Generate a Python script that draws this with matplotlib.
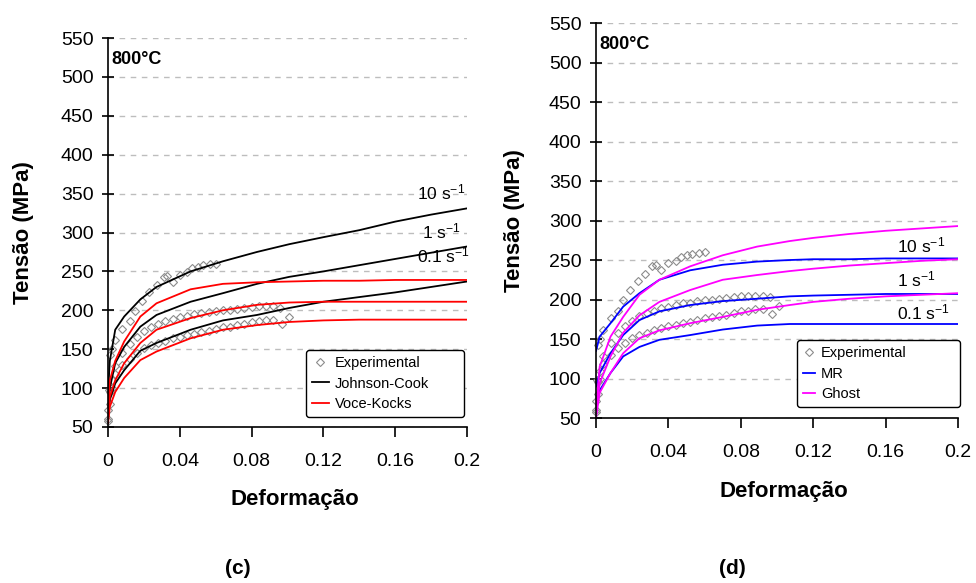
import matplotlib
matplotlib.use("Agg")
import matplotlib.pyplot as plt

plt.rcParams['font.family'] = ['Liberation Sans', 'DejaVu Sans']
plt.rcParams['mathtext.fontset'] = 'custom'
plt.rcParams['mathtext.rm'] = 'Liberation Sans'
plt.rcParams['mathtext.it'] = 'Liberation Sans:italic'
plt.rcParams['mathtext.bf'] = 'Liberation Sans:bold'

# experimental points (same data in both panels)
exp_10_x = [0, 0.0005, 0.001, 0.002, 0.004, 0.008, 0.012, 0.015, 0.019, 0.023, 0.027,
            0.031, 0.033, 0.036, 0.040, 0.044, 0.047, 0.050, 0.053, 0.057, 0.060]
exp_10_y = [58, 98, 142, 150, 162, 176, 186, 199, 212, 224, 232,
            243, 244, 237, 246, 249, 254, 256, 258, 259, 260]

exp_1_x = [0, 0.001, 0.002, 0.004, 0.008, 0.012, 0.016, 0.020, 0.024, 0.028, 0.032,
           0.036, 0.040, 0.044, 0.048, 0.052, 0.056, 0.060, 0.064, 0.068, 0.072,
           0.076, 0.080, 0.084, 0.088, 0.092, 0.096, 0.101]
exp_1_y = [72, 95, 110, 128, 145, 157, 166, 173, 179, 183, 186,
           189, 191, 193, 195, 196, 198, 199, 200, 201, 202,
           203, 204, 205, 205, 205, 203, 192]

exp_01_x = [0, 0.001, 0.002, 0.004, 0.008, 0.012, 0.016, 0.020, 0.024, 0.028, 0.032,
            0.036, 0.040, 0.044, 0.048, 0.052, 0.056, 0.060, 0.064, 0.068, 0.072,
            0.076, 0.080, 0.084, 0.088, 0.092, 0.097]
exp_01_y = [60, 80, 100, 118, 130, 138, 145, 151, 155, 158, 161,
            164, 166, 168, 170, 172, 174, 176, 178, 179, 181,
            183, 185, 186, 188, 188, 182]

# (c) Johnson-Cook and Voce-Kocks
eps_c = [0, 0.001, 0.004, 0.009, 0.018, 0.027, 0.046, 0.064, 0.083, 0.101,
         0.12, 0.14, 0.16, 0.18, 0.2]
jc_10 = [95, 135, 175, 192, 214, 230, 250, 263, 275, 285, 294, 303, 314, 323, 331]
jc_1 = [75, 100, 132, 153, 179, 194, 211, 222, 234, 243, 250, 258, 266, 274, 282]
jc_01 = [60, 85, 106, 123, 148, 158, 175, 187, 194, 203, 211, 217, 223, 230, 237]
vk_10 = [70, 110, 135, 160, 192, 209, 227, 234, 236, 237, 238, 238, 239, 239, 239]
vk_1 = [60, 89, 110, 132, 158, 175, 190, 200, 207, 210, 211, 211, 211, 211, 211]
vk_01 = [55, 76, 95, 113, 136, 147, 164, 175, 181, 185, 187, 188, 188, 188, 188]

# (d) MR and Ghost
eps_d = [0, 0.002, 0.008, 0.015, 0.024, 0.035, 0.052, 0.07, 0.089, 0.107,
         0.12, 0.14, 0.16, 0.18, 0.2]
mr_10 = [135, 153, 170, 191, 208, 225, 237, 244, 248, 250, 251, 251, 252, 252, 252]
gh_10 = [60, 115, 153, 178, 206, 225, 242, 256, 267, 274, 278, 283, 287, 290, 293]
mr_1 = [90, 107, 132, 155, 174, 185, 193, 198, 201, 204, 205, 206, 207, 207, 207]
gh_1 = [55, 94, 128, 158, 180, 197, 212, 225, 231, 236, 239, 243, 246, 249, 251]
mr_01 = [70, 85, 107, 128, 140, 149, 155, 162, 167, 169, 169, 169, 169, 169, 169]
gh_01 = [50, 82, 107, 132, 151, 161, 170, 178, 187, 193, 197, 201, 204, 206, 208]

x_ticks = [0, 0.04, 0.08, 0.12, 0.16, 0.2]
x_labels = ['0', '0.04', '0.08', '0.12', '0.16', '0.2']
y_ticks = list(range(50, 551, 50))
rate_labels = ['10 s$^{-1}$', '1 s$^{-1}$', '0.1 s$^{-1}$']


def setup_axes(ax):
    ax.set_xlim(0, 0.2)
    ax.set_ylim(50, 550)
    ax.set_xticks(x_ticks)
    ax.set_xticklabels(x_labels)
    ax.set_yticks(y_ticks)
    ax.spines['top'].set_visible(False)
    ax.spines['right'].set_visible(False)
    ax.spines['left'].set_linewidth(1.2)
    ax.spines['bottom'].set_linewidth(1.2)
    ax.tick_params(axis='y', direction='inout', length=9, width=1.2, labelsize=14, pad=6)
    ax.tick_params(axis='x', direction='out', length=7, width=1.2, labelsize=14, pad=12)
    ax.yaxis.grid(True, linestyle=(0, (4, 4)), color='#bdbdbd', linewidth=1)
    ax.set_axisbelow(True)
    ax.set_xlabel('Deformação', fontsize=16, fontweight='bold')
    ax.set_ylabel('Tensão (MPa)', fontsize=16, fontweight='bold')
    ax.text(0.01, 0.945, '800°C', transform=ax.transAxes, fontsize=13,
            fontweight='bold', va='center', ha='left')


def plot_exp(ax):
    kw = dict(linestyle='none', marker='D', markersize=4.5, markerfacecolor='none',
              markeredgecolor='#8c8c8c', markeredgewidth=0.8, clip_on=False)
    ax.plot(exp_10_x, exp_10_y, label='Experimental', **kw)
    ax.plot(exp_1_x, exp_1_y, **kw)
    ax.plot(exp_01_x, exp_01_y, **kw)


def add_legend(ax, box, hlen):
    leg = ax.legend(loc='lower left', bbox_to_anchor=box, mode='expand', fontsize=10.5,
                    handlelength=hlen, handletextpad=0.4, labelspacing=0.45,
                    borderpad=0.4, borderaxespad=0, fancybox=True, framealpha=1,
                    edgecolor='black')
    leg.get_frame().set_linewidth(1)
    return leg


fig = plt.figure(figsize=(9.76, 5.83), dpi=100)

# panel (c)
ax1 = fig.add_axes([0.1107, 0.2676, 0.3678, 0.6672])
setup_axes(ax1)
plot_exp(ax1)
ax1.plot(eps_c, jc_10, color='black', lw=1.3, label='Johnson-Cook')
ax1.plot(eps_c, jc_1, color='black', lw=1.3)
ax1.plot(eps_c, jc_01, color='black', lw=1.3)
ax1.plot(eps_c, vk_10, color='red', lw=1.3, label='Voce-Kocks')
ax1.plot(eps_c, vk_1, color='red', lw=1.3)
ax1.plot(eps_c, vk_01, color='red', lw=1.3)
ax1.text(0.1720, 351, rate_labels[0], fontsize=12.5, va='center')
ax1.text(0.1750, 301, rate_labels[1], fontsize=12.5, va='center')
ax1.text(0.1720, 270, rate_labels[2], fontsize=12.5, va='center')
add_legend(ax1, (0.5515, 0.0257, 0.44, 0.177), 1.15)
ax1.yaxis.set_label_coords(-0.205, 0.5)
ax1.xaxis.set_label_coords(0.52, -0.16)

# panel (d)
ax2 = fig.add_axes([0.6107, 0.283, 0.3709, 0.6775])
setup_axes(ax2)
plot_exp(ax2)
ax2.plot(eps_d, mr_10, color='blue', lw=1.3, label='MR')
ax2.plot(eps_d, mr_1, color='blue', lw=1.3)
ax2.plot(eps_d, mr_01, color='blue', lw=1.3)
ax2.plot(eps_d, gh_10, color='magenta', lw=1.3, label='Ghost')
ax2.plot(eps_d, gh_1, color='magenta', lw=1.3)
ax2.plot(eps_d, gh_01, color='magenta', lw=1.3)
ax2.text(0.1663, 269, rate_labels[0], fontsize=12.5, va='center')
ax2.text(0.1663, 225, rate_labels[1], fontsize=12.5, va='center')
ax2.text(0.1663, 184, rate_labels[2], fontsize=12.5, va='center')
add_legend(ax2, (0.555, 0.0278, 0.45, 0.175), 0.85)
ax2.yaxis.set_label_coords(-0.195, 0.5)
ax2.xaxis.set_label_coords(0.52, -0.16)

fig.text(238 / 976, 1 - 569 / 583, '(c)', fontsize=15, fontweight='bold',
         ha='center', va='center')
fig.text(732 / 976, 1 - 569 / 583, '(d)', fontsize=15, fontweight='bold',
         ha='center', va='center')

fig.savefig('out.png', dpi=100)
